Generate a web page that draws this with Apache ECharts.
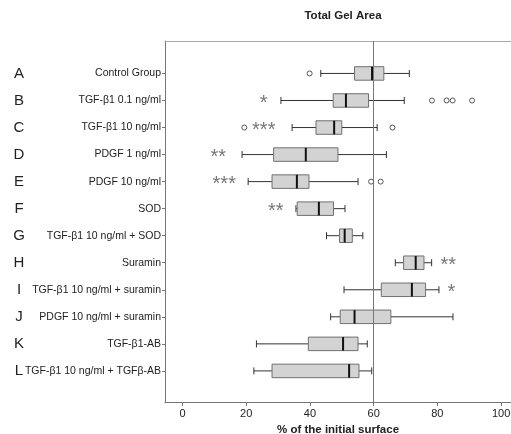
<!DOCTYPE html>
<html>
<head>
<meta charset="utf-8">
<script src="https://cdn.jsdelivr.net/npm/echarts@6/dist/echarts.min.js"></script>
<style>html,body{margin:0;padding:0;background:#fff}#c{width:511px;height:434px}</style>
</head>
<body>
<div id="c"></div>
<script>
var categories = ['Control Group','TGF-β1 0.1 ng/ml','TGF-β1 10 ng/ml','PDGF 1 ng/ml','PDGF 10 ng/ml','SOD',
  'TGF-β1 10 ng/ml + SOD','Suramin','TGF-β1 10 ng/ml + suramin','PDGF 10 ng/ml + suramin','TGF-β1-AB','TGF-β1 10 ng/ml + TGFβ-AB'];
var letters = ['A','B','C','D','E','F','G','H','I','J','K','L'];
var whiskerLow  = [43.4, 30.9, 34.4, 18.7, 20.6, 35.6, 45.2, 66.8, 50.7, 46.5, 23.2, 22.4];
var q1          = [54.0, 47.3, 41.9, 28.6, 28.1, 36.0, 49.3, 69.4, 62.4, 49.5, 39.5, 28.1];
var medians     = [59.5, 51.3, 47.6, 38.7, 35.9, 42.8, 50.9, 73.2, 72.0, 54.0, 50.4, 52.3];
var q3          = [63.2, 58.4, 50.0, 48.8, 39.7, 47.4, 53.3, 75.8, 76.3, 65.4, 55.1, 55.4];
var whiskerHigh = [71.2, 69.6, 61.1, 64.0, 55.1, 51.0, 56.6, 78.2, 80.5, 84.9, 58.0, 59.4];
// outliers: [value, category index]
var outliers = [[39.9,0],[78.3,1],[82.9,1],[84.8,1],[90.9,1],[19.4,2],[65.9,2],[59.2,4],[62.2,4]];
// significance marks: [x position, category index, text]
var stars = [[25.5,1,'*'],[25.5,2,'***'],[11.2,3,'**'],[13.1,4,'***'],[29.3,5,'**'],[83.4,7,'**'],[84.4,8,'*']];
var xTicks = [0,20,40,60,80,100];
var refValue = 60;

var idx = categories.map(function(_, i){ return i; });
var boxData = categories.map(function(_, i){
  return [whiskerLow[i], q1[i], medians[i], q3[i], whiskerHigh[i], i];
});

var chart = echarts.init(document.getElementById('c'), null, {renderer:'canvas'});
var yCommon = {
  type:'value', min:-1.2, max:12.15, inverse:true, splitLine:{show:false}
};
var xMin = -5.5, xMax = 105;
chart.setOption({
  animation:false,
  backgroundColor:'#fff',
  title:{text:'Total Gel Area', left:338, top:5, textAlign:'center',
    textStyle:{fontFamily:'Liberation Sans', fontSize:11.5, fontWeight:'bold', color:'#222'}},
  grid:{left:165, width:352, top:41, height:361, show:false, outerBoundsMode:'none', containLabel:false},
  xAxis:[{type:'value', min:xMin, max:xMax, splitLine:{show:false},
    axisLine:{show:true, onZero:false, lineStyle:{color:'#777'}},
    axisTick:{show:true, length:4, customValues:xTicks, lineStyle:{color:'#777'}},
    axisLabel:{customValues:xTicks, margin:6, fontFamily:'Liberation Sans', fontSize:11, color:'#222'},
    name:'% of the initial surface', nameLocation:'middle', nameGap:18,
    nameTextStyle:{fontFamily:'Liberation Sans', fontSize:11.5, fontWeight:'bold', color:'#222', padding:[0,6,0,0]}
  },{
    type:'value', position:'top', min:xMin, max:xMax, splitLine:{show:false},
    axisLine:{show:true, onZero:false, lineStyle:{color:'#aaa'}},
    axisTick:{show:false}, axisLabel:{show:false}
  }],
  yAxis:[
    Object.assign({}, yCommon, {
      axisLine:{show:true, onZero:false, lineStyle:{color:'#777'}},
      axisTick:{show:true, length:3, customValues:idx, lineStyle:{color:'#777'}},
      axisLabel:{customValues:idx, margin:4, fontFamily:'Liberation Sans', fontSize:10.5, color:'#222',
        formatter:function(v){ return categories[Math.round(v)]; }}
    }),
    Object.assign({}, yCommon, {
      position:'left', offset:138,
      axisLine:{show:false, onZero:false}, axisTick:{show:false},
      axisLabel:{customValues:idx, margin:8, align:'center', fontFamily:'Liberation Sans', fontSize:15, color:'#222',
        formatter:function(v){ return letters[Math.round(v)]; }}
    })
  ],
  series:[
    {
      type:'custom',
      data:boxData,
      encode:{x:[0,1,2,3,4], y:5},
      renderItem:function(params, api){
        var i = api.value(5);
        var y = api.coord([0, i])[1];
        var h = api.size([0,1])[1]*0.5;
        var xl = api.coord([api.value(0), i])[0];
        var x1 = api.coord([api.value(1), i])[0];
        var xm = api.coord([api.value(2), i])[0];
        var x3 = api.coord([api.value(3), i])[0];
        var xh = api.coord([api.value(4), i])[0];
        var cap = 3.5;
        var wStyle = {stroke:'#333', lineWidth:1};
        return {type:'group', children:[
          {type:'line', shape:{x1:xl, y1:y, x2:x1, y2:y}, style:wStyle},
          {type:'line', shape:{x1:x3, y1:y, x2:xh, y2:y}, style:wStyle},
          {type:'line', shape:{x1:xl, y1:y-cap, x2:xl, y2:y+cap}, style:wStyle},
          {type:'line', shape:{x1:xh, y1:y-cap, x2:xh, y2:y+cap}, style:wStyle},
          {type:'rect', shape:{x:x1, y:y-h/2, width:x3-x1, height:h}, style:{fill:'#d3d3d3', stroke:'#707070', lineWidth:1}},
          {type:'line', shape:{x1:xm, y1:y-h/2, x2:xm, y2:y+h/2}, style:{stroke:'#111', lineWidth:2}}
        ]};
      }
    },
    {
      type:'scatter',
      data:outliers,
      symbol:'circle', symbolSize:5,
      itemStyle:{color:'#fff', borderColor:'#555', borderWidth:1, opacity:1},
      markLine:{silent:true, symbol:'none', label:{show:false},
        lineStyle:{color:'#777', width:1, type:'solid'},
        data:[{xAxis:refValue}]}
    },
    {
      type:'scatter',
      data:stars,
      symbolSize:0,
      label:{show:true, position:'inside', formatter:function(p){ return p.data[2]; },
        fontFamily:'Liberation Sans', fontSize:20, color:'#555', offset:[0,3]}
    }
  ]
});
</script>
</body>
</html>
